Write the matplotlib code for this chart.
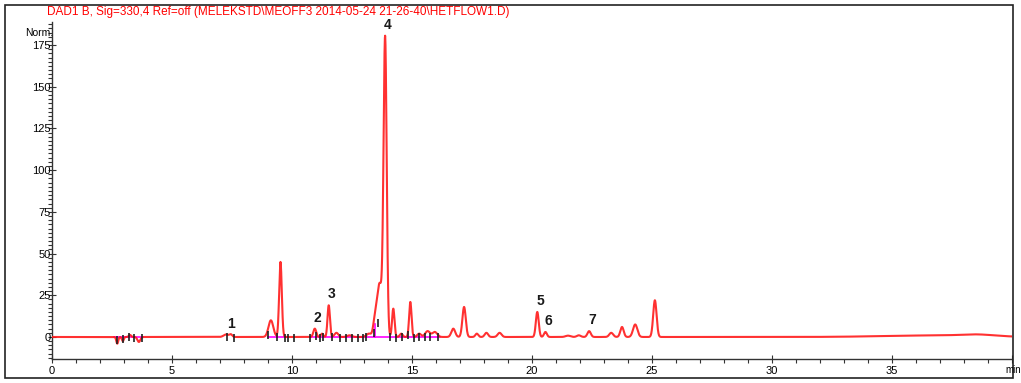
import numpy as np
import matplotlib
matplotlib.use("Agg")
import matplotlib.pyplot as plt
from matplotlib.patches import Rectangle
from matplotlib.ticker import MultipleLocator

plt.rcParams['font.family'] = ['Liberation Sans', 'DejaVu Sans']

# Peak table: retention time (min), height (mAU), gaussian sigma (min)
peak_rt = [2.72, 2.95, 3.25, 3.62,
           7.25, 7.45, 9.12, 9.52, 10.95, 11.25, 11.53, 11.85, 12.4,
           13.2, 13.45, 13.65, 13.88, 14.22, 14.55, 14.93, 15.3, 15.65,
           15.95, 16.72, 17.17, 17.7, 18.1, 18.65, 20.22, 20.56, 21.5,
           21.95, 22.38, 23.3, 23.75, 24.3, 25.12, 36.6, 38.55]
peak_height = [-4.0, -2.5, 1.2, -3.0,
               1.5, 1.5, 10.0, 45.0, 5.0, 2.0, 19.0, 2.5, 1.0,
               2.0, 8.0, 32.0, 177.0, 17.0, 2.0, 21.0, 2.0, 3.5,
               3.0, 5.0, 18.0, 2.0, 2.5, 2.5, 15.0, 3.0, 0.8,
               1.0, 3.5, 2.5, 6.0, 7.5, 22.0, 0.9, 1.0]
peak_sigma = [0.04, 0.04, 0.05, 0.06,
              0.10, 0.06, 0.10, 0.055, 0.06, 0.05, 0.05, 0.08, 0.10,
              0.10, 0.07, 0.11, 0.065, 0.05, 0.06, 0.05, 0.08, 0.10,
              0.10, 0.08, 0.07, 0.06, 0.07, 0.08, 0.06, 0.06, 0.10,
              0.08, 0.07, 0.08, 0.07, 0.09, 0.07, 2.0, 0.7]

# Numbered compounds
label_text = ['1', '2', '3', '4', '5', '6', '7']
label_rt = [7.35, 10.95, 11.53, 13.88, 20.22, 20.56, 22.38]

# Integration events
event_rt = [2.7, 2.95, 3.2, 3.4, 3.75, 7.28, 7.6, 9.0, 9.37, 9.7, 9.85, 10.1,
            10.75, 11.0, 11.15, 11.3, 11.66, 12.0, 12.25, 12.5, 12.75, 12.95,
            13.1, 13.4, 13.6, 14.1, 14.35, 14.6, 14.85, 15.1, 15.3, 15.55,
            15.75, 16.1]
baseline_start = [2.6, 9.0, 10.75]
baseline_end = [3.8, 9.85, 16.15]
drop_rt = [9.37, 13.45]

x_ticks = [0, 5, 10, 15, 20, 25, 30, 35, 40]
x_ticklabels = ['0', '5', '10', '15', '20', '25', '30', '35', '']
y_ticks = [0, 25, 50, 75, 100, 125, 150, 175]

title = "DAD1 B, Sig=330,4 Ref=off (MELEKSTD\\MEOFF3 2014-05-24 21-26-40\\HETFLOW1.D)"

t = np.linspace(0, 40, 8001)
signal = np.zeros_like(t)
for rt, h, s in zip(peak_rt, peak_height, peak_sigma):
    signal += h * np.exp(-0.5 * ((t - rt) / s) ** 2)


def sig_at(x):
    return np.interp(x, t, signal)


W, H = 1021, 383
fig = plt.figure(figsize=(W / 100, H / 100), dpi=100)
ax = fig.add_axes([52 / W, (H - 359) / H, 960 / W, (359 - 22) / H])

ax.plot(t, signal, color='#ff1a1a', lw=1.5, alpha=0.9, zorder=3)

# integration baselines and drop lines
for a, b in zip(baseline_start, baseline_end):
    ax.plot([a, b], [0, 0], color='#ff00ff', lw=1.2, zorder=2)
for d in drop_rt:
    ax.plot([d, d], [0, min(sig_at(d), 8)], color='#ff00ff', lw=1.2, zorder=2)
ax.plot(event_rt, [sig_at(e) * 0.3 - 0.5 for e in event_rt], ls='none',
        marker='|', ms=6, mew=1.2, color='#202020', zorder=4)

for txt, rt in zip(label_text, label_rt):
    ax.annotate(txt, (rt, sig_at(rt)), xytext=(2, 8), textcoords='offset points',
                ha='center', va='center', fontsize=10, fontweight='bold',
                color='#1a1a1a')

ax.set_xlim(0, 40)
ax.set_ylim(-13.2, 188.8)
ax.set_xticks(x_ticks)
ax.set_xticklabels(x_ticklabels)
ax.xaxis.set_minor_locator(MultipleLocator(1))
ax.set_yticks(y_ticks)
ax.yaxis.set_minor_locator(MultipleLocator(2.5))
ax.tick_params(axis='both', which='major', labelsize=8, direction='inout',
               length=6, width=0.8, color='#333333')
ax.tick_params(axis='both', which='minor', direction='out', length=3,
               width=0.8, color='#333333')
ax.tick_params(axis='y', which='major', pad=-2)
ax.tick_params(axis='x', which='major', pad=2)
for side in ('top', 'right'):
    ax.spines[side].set_visible(False)
for side in ('left', 'bottom'):
    ax.spines[side].set_linewidth(1.0)
    ax.spines[side].set_color('#333333')
ax.patch.set_visible(False)

fig.text(25 / W, 1 - 33 / H, "Norm.", fontsize=7.5, ha='left', va='center')
fig.text(1005 / W, 1 - 370 / H, "min", fontsize=7, ha='left', va='center')
fig.text(47 / W, 1 - 12 / H, title, fontsize=8.5, color='red', ha='left',
         va='center')

fig.patches.append(Rectangle((5 / W, 5 / H), 1008 / W, 373 / H,
                             transform=fig.transFigure, fill=False,
                             edgecolor='#222222', lw=1.2))

fig.savefig("out.png", dpi=100)
